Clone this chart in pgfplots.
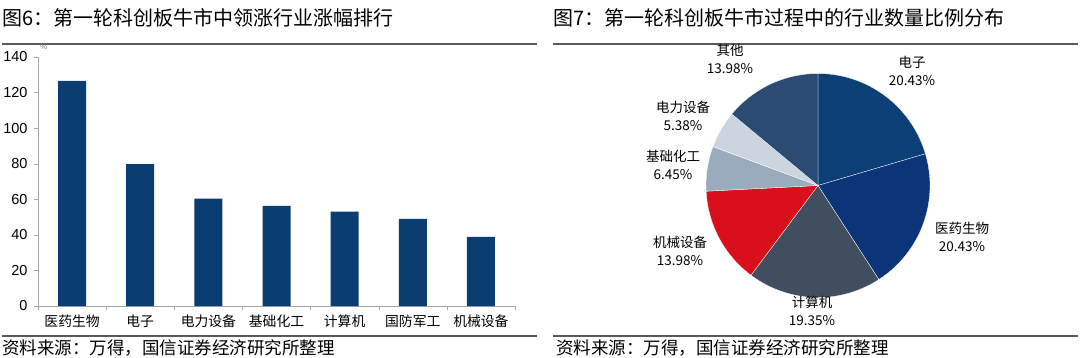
\documentclass[border=0pt]{standalone}
\usepackage{pgfplots}
\pgfplotsset{compat=1.18}
\usepgfplotslibrary{polar}
\usepackage{fontspec}
\setmainfont{Liberation Sans}
\newfontfamily\cjk{Noto Sans CJK SC}
\definecolor{barc}{HTML}{0A3E73}
\definecolor{cE}{HTML}{0B3F75}
\definecolor{cY}{HTML}{0C3479}
\definecolor{cJ}{HTML}{404E60}
\definecolor{cX}{HTML}{D9101C}
\definecolor{cH}{HTML}{9AABBD}
\definecolor{cD}{HTML}{CCD5DF}
\definecolor{cQ}{HTML}{2C4B73}
\definecolor{rulec}{HTML}{5A5A5A}
\definecolor{axc}{HTML}{A6A6A6}
\begin{document}
\begin{tikzpicture}[x=1pt,y=1pt]
\path[use as bounding box] (0,0) rectangle (1080,357);
% titles
\node[anchor=west,inner sep=0pt,font=\cjk\fontsize{20}{20}\selectfont] at (2,339) {图6：第一轮科创板牛市中领涨行业涨幅排行};
\node[anchor=west,inner sep=0pt,font=\cjk\fontsize{20}{20}\selectfont] at (553,339) {图7：第一轮科创板牛市过程中的行业数量比例分布};
\draw[rulec,line width=1.6pt] (2,313) -- (537,313);
\draw[rulec,line width=1.6pt] (553,313) -- (1078,313);
\draw[rulec,line width=1.6pt] (2,21) -- (537,21);
\draw[rulec,line width=1.6pt] (553,21) -- (1078,21);
\node[anchor=west,inner sep=0pt,font=\cjk\fontsize{17.5}{17.5}\selectfont] at (2,9) {资料来源：万得，国信证券经济研究所整理};
\node[anchor=west,inner sep=0pt,font=\cjk\fontsize{17.5}{17.5}\selectfont] at (556,9) {资料来源：万得，国信证券经济研究所整理};
% bar chart
\begin{axis}[at={(38pt,51pt)}, anchor=south west, scale only axis,
  width=477pt, height=249pt,
  xmin=-0.5, xmax=6.5, ymin=0, ymax=140,
  axis x line*=bottom, axis y line*=left,
  axis line style={draw=axc},
  ytick={0,20,...,140},
  xtick={0,...,6},
  xticklabels={医药生物,电子,电力设备,基础化工,计算机,国防军工,机械设备},
  minor xtick={-0.5,0.5,...,6.5},
  tick align=outside,
  major tick length=4pt, minor tick length=4pt,
  xtick style={draw=none},
  minor x tick style={draw=axc},
  ytick style={draw=axc},
  /pgf/number format/assume math mode=true,
  yticklabel style={font=\fontsize{14.5}{14.5}\selectfont, xshift=-3pt},
  xticklabel style={font=\cjk\fontsize{13.8}{14}\selectfont, yshift=-1pt},
  ybar, bar width=28pt,
  clip=false,
]
\addplot[fill=barc, draw=none] coordinates {(0,126.6) (1,79.8) (2,60.4) (3,56.3) (4,53) (5,49) (6,38.8)};
\node[font=\fontsize{8}{8}\selectfont, text=gray] at (rel axis cs:0.012,1.04) {\%};
\end{axis}
% pie chart
\begin{polaraxis}[at={(818pt,171.5pt)}, anchor=center, scale only axis,
  width=224pt, height=224pt, hide axis, ymin=0, ymax=1, clip=false]
\addplot[fill=cE, draw=white, line width=0.3pt, domain=16.452:90, samples=40] {1} -- (axis cs:0,0) -- cycle;
\addplot[fill=cY, draw=white, line width=0.3pt, domain=-57.096:16.452, samples=40] {1} -- (axis cs:0,0) -- cycle;
\addplot[fill=cJ, draw=white, line width=0.3pt, domain=-126.756:-57.096, samples=40] {1} -- (axis cs:0,0) -- cycle;
\addplot[fill=cX, draw=white, line width=0.3pt, domain=-177.084:-126.756, samples=30] {1} -- (axis cs:0,0) -- cycle;
\addplot[fill=cH, draw=white, line width=0.3pt, domain=-200.304:-177.084, samples=20] {1} -- (axis cs:0,0) -- cycle;
\addplot[fill=cD, draw=white, line width=0.3pt, domain=-219.672:-200.304, samples=20] {1} -- (axis cs:0,0) -- cycle;
\addplot[fill=cQ, draw=white, line width=0.3pt, domain=-270:-219.672, samples=30] {1} -- (axis cs:0,0) -- cycle;
\end{polaraxis}
% pie labels
\begin{scope}[every node/.style={align=center, font=\cjk\fontsize{13.5}{18.5}\selectfont, inner sep=0pt}]
\node at (730,298) {其他\\13.98\%};
\node at (912,286) {电子\\20.43\%};
\node at (683,241) {电力设备\\5.38\%};
\node at (673,192) {基础化工\\6.45\%};
\node at (962,120) {医药生物\\20.43\%};
\node at (680,106) {机械设备\\13.98\%};
\node at (812,46) {计算机\\19.35\%};
\end{scope}
\end{tikzpicture}
\end{document}
